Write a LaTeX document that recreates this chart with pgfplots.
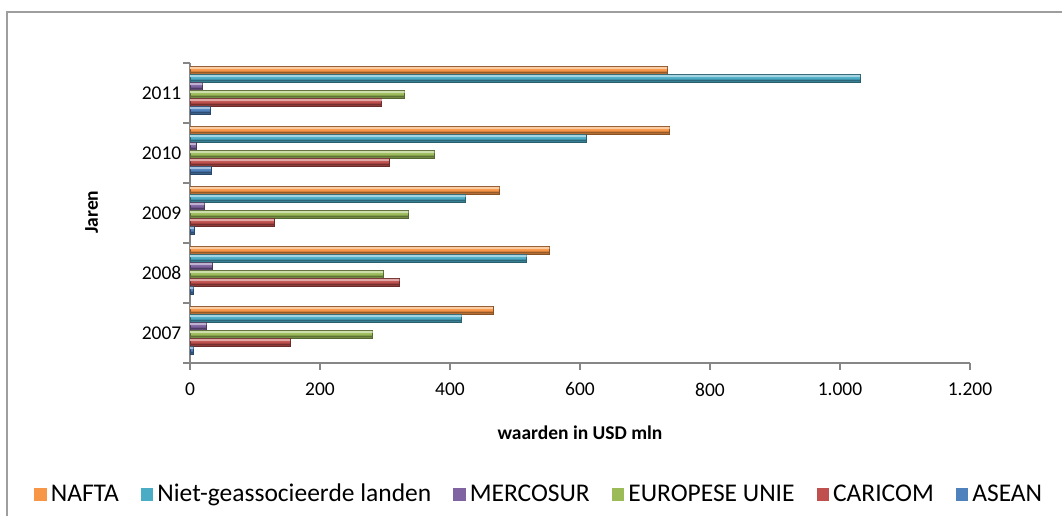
\documentclass[border=0pt]{standalone}
\usepackage{pgfplots}
\pgfplotsset{compat=1.18}
\usepackage{fontspec}
\setmainfont{Carlito}
\definecolor{cNAFTA}{HTML}{F79646}
\definecolor{cNIET}{HTML}{4BACC6}
\definecolor{cMERC}{HTML}{8064A2}
\definecolor{cEU}{HTML}{9BBB59}
\definecolor{cCARI}{HTML}{C0504D}
\definecolor{cASEAN}{HTML}{4F81BD}
\definecolor{axgray}{HTML}{868686}
\pgfplotsset{
  mybar/.style 2 args={xbar, bar width=8pt, bar shift=#1, fill=#2, draw=#2!55!black, line width=0.6pt},
  myhi/.style 2 args={xbar, bar width=2.2pt, bar shift=#1+2pt, fill=#2!50!white, draw=none, forget plot},
  mylo/.style 2 args={xbar, bar width=1.8pt, bar shift=#1-2.6pt, fill=#2!60!black, draw=none, forget plot},
}
\pgfplotstableread{
y NAFTA NIET MERC EU CARI ASEAN
0 466 418 25 281 154 5
1 553 518 34 297 322 5
2 476 424 22 336 129 6
3 738 609 9 376 306 32
4 734 1031 19 330 295 31
}\datatable
\begin{document}
\fontsize{19.5}{23}\selectfont
\begin{tikzpicture}[x=1pt,y=1pt]
\useasboundingbox (0,0) rectangle (1062,-516);
\draw[axgray!80, line width=1.5pt] (7,-516) -- (7,-12) -- (1062,-12);
\begin{axis}[
  at={(190pt,-363pt)}, anchor=south west,
  scale only axis, width=780pt, height=300pt,
  xmin=0, xmax=1200, ymin=-0.5, ymax=4.5,
  xtick={0,200,...,1200},
  ytick={0,...,4}, yticklabels={2007,2008,2009,2010,2011},
  minor ytick={-0.5,0.5,...,4.5},
  axis x line*=bottom, axis y line*=left,
  axis line style={draw=axgray, line width=1.5pt, -},
  every tick/.style={draw=axgray, line width=1.5pt},
  tick align=outside, major tick length=7pt, minor tick length=7pt,
  every major y tick/.style={draw=none},
  /pgf/number format/assume math mode=true,
  /pgf/number format/1000 sep={.},
  xticklabel style={yshift=-6pt},
  yticklabel style={xshift=5pt},
  xlabel={\bfseries waarden in USD mln},
  xlabel style={at={(0.5,-0.233)}, anchor=center},
  ylabel={\bfseries Jaren},
  ylabel style={at={(-0.126,0.503)}, anchor=center},
  legend columns=-1,
  legend style={at={(0.449,-0.438)}, anchor=center, draw=none, fill=none,
    font=\fontsize{25.5}{28}\selectfont,
    nodes={inner xsep=4pt},
    /tikz/every even column/.append style={column sep=18pt}},
  legend image code/.code={\fill[#1, draw=none] (0pt,-6.5pt) rectangle (12.5pt,6pt);},
  clip=false,
]
\addplot[mybar={23pt}{cNAFTA}] table[x=NAFTA, y=y] {\datatable};
\addlegendentry{NAFTA}
\addplot[mybar={15pt}{cNIET}] table[x=NIET, y=y] {\datatable};
\addlegendentry{Niet-geassocieerde landen}
\addplot[mybar={7pt}{cMERC}] table[x=MERC, y=y] {\datatable};
\addlegendentry{MERCOSUR}
\addplot[mybar={-1pt}{cEU}] table[x=EU, y=y] {\datatable};
\addlegendentry{EUROPESE UNIE}
\addplot[mybar={-9pt}{cCARI}] table[x=CARI, y=y] {\datatable};
\addlegendentry{CARICOM}
\addplot[mybar={-17pt}{cASEAN}] table[x=ASEAN, y=y] {\datatable};
\addlegendentry{ASEAN}
% highlights and shadows on each bar
\addplot[myhi={23pt}{cNAFTA}] table[x=NAFTA, y=y] {\datatable};
\addplot[myhi={15pt}{cNIET}] table[x=NIET, y=y] {\datatable};
\addplot[myhi={7pt}{cMERC}] table[x=MERC, y=y] {\datatable};
\addplot[myhi={-1pt}{cEU}] table[x=EU, y=y] {\datatable};
\addplot[myhi={-9pt}{cCARI}] table[x=CARI, y=y] {\datatable};
\addplot[myhi={-17pt}{cASEAN}] table[x=ASEAN, y=y] {\datatable};
\addplot[mylo={23pt}{cNAFTA}] table[x=NAFTA, y=y] {\datatable};
\addplot[mylo={15pt}{cNIET}] table[x=NIET, y=y] {\datatable};
\addplot[mylo={7pt}{cMERC}] table[x=MERC, y=y] {\datatable};
\addplot[mylo={-1pt}{cEU}] table[x=EU, y=y] {\datatable};
\addplot[mylo={-9pt}{cCARI}] table[x=CARI, y=y] {\datatable};
\addplot[mylo={-17pt}{cASEAN}] table[x=ASEAN, y=y] {\datatable};
\end{axis}
\end{tikzpicture}
\end{document}
